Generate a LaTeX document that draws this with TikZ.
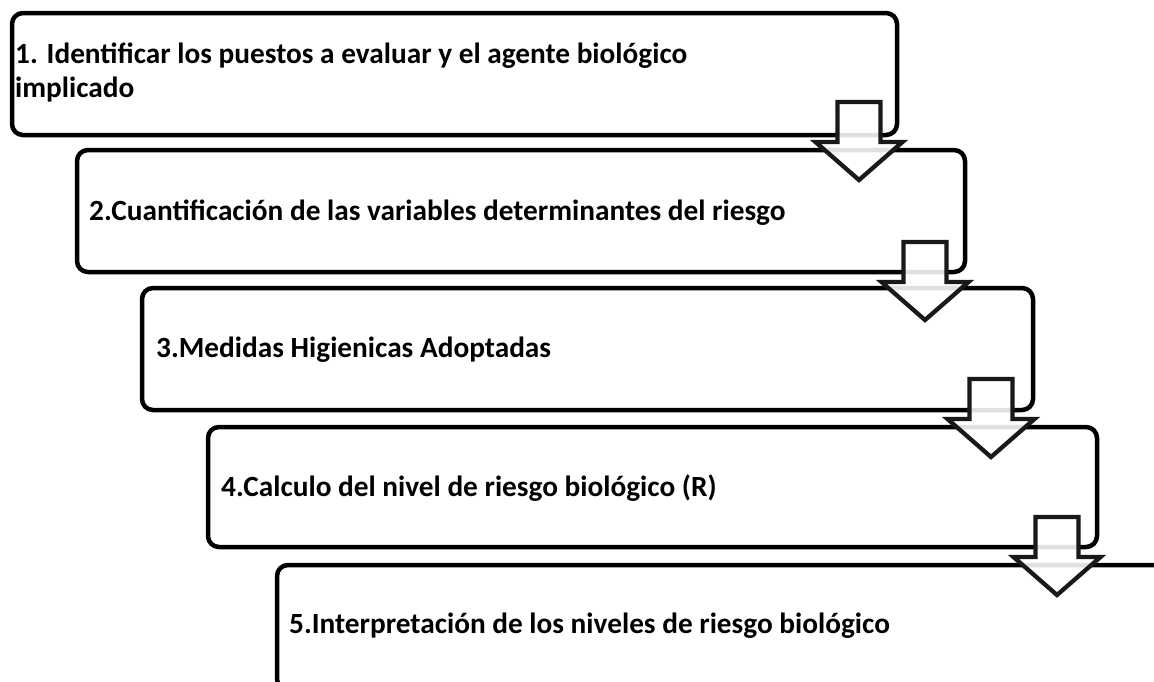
\documentclass[tikz,border=0pt]{standalone}
\usepackage{fontspec}
\setmainfont{Carlito}
\begin{document}
\begin{tikzpicture}[x=1pt,y=-1pt,
  stepbox/.style={draw=black,line width=4.5pt,rounded corners=11pt,fill=white},
  lbl/.style={font=\bfseries\fontsize{29.3}{34}\selectfont,anchor=base west,inner sep=0pt},
  blockarrow/.style={draw=black!90,line width=4.3pt,fill=white,fill opacity=0.88,line join=miter}
]
\useasboundingbox (0,0) rectangle (1154,681);
\clip (0,0) rectangle (1154,681);
% boxes
\draw[stepbox] (12,13) rectangle (897,135);
\draw[stepbox] (77,150) rectangle (965,272);
\draw[stepbox] (142,288) rectangle (1033,410);
\draw[stepbox] (208,427) rectangle (1097,547);
\draw[stepbox] (277,565) rectangle (1166,690);
% labels
\node[lbl] (t1a) at (15,63) {1. Identificar los puestos a evaluar y el agente biológico};
\node[lbl] (t1b) at (15,97) {implicado};
\node[lbl] (t2) at (89,220) {2.Cuantificación de las variables determinantes del riesgo};
\node[lbl] (t3) at (156,357) {3.Medidas Higienicas Adoptadas};
\node[lbl] (t4) at (221,496) {4.Calculo del nivel de riesgo biológico (R)};
\node[lbl] (t5) at (289,633) {5.Interpretación de los niveles de riesgo biológico};
% block arrows
\foreach \cx/\ty in {859/180, 925/320, 991/457, 1057/595}{
  \draw[blockarrow] (\cx-21.5,\ty-78) -- (\cx+21.5,\ty-78) -- (\cx+21.5,\ty-38)
    -- (\cx+43.5,\ty-38) -- (\cx,\ty) -- (\cx-43.5,\ty-38) -- (\cx-21.5,\ty-38) -- cycle;
}
\end{tikzpicture}
\end{document}
